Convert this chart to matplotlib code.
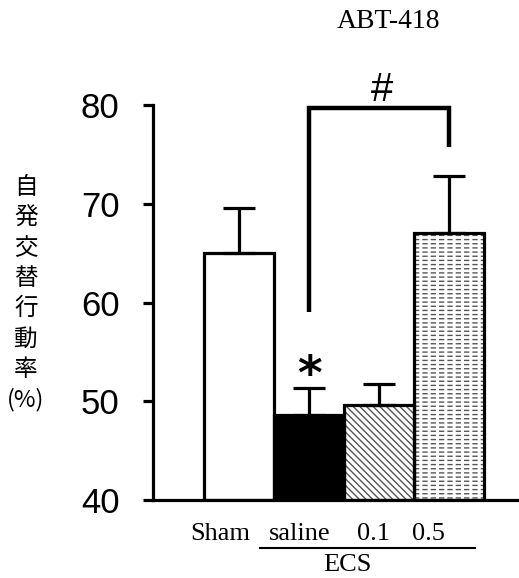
import matplotlib
matplotlib.use("Agg")
import matplotlib.pyplot as plt
from matplotlib.lines import Line2D

# ---- data ----
groups = ["Sham", "saline", "0.1", "0.5"]
means = [65.0, 48.6, 49.6, 67.0]
errors = [4.6, 2.7, 2.1, 5.8]
yticks = [40, 50, 60, 70, 80]
bracket_x = [1, 1, 3, 3]
bracket_y = [59.0, 79.7, 79.7, 75.7]
star_pos = (1, 52.5)
hash_pos = (2.05, 81.5)

W, H = 519, 578
fig = plt.figure(figsize=(W / 100, H / 100), dpi=100)
ax = fig.add_axes([153 / W, 1 - 500 / H, 1 - 153 / W, (500 - 105) / H])

x = list(range(len(groups)))
faces = ["white", "black", "white", "white"]
hatches = [None, None, "\\\\\\\\\\", "----"]
hcolors = ["white", "black", "#555555", "#555555"]

# hatch layer
with plt.rc_context({"hatch.linewidth": 1.0}):
    for xi, m, fc, h, hc in zip(x, means, faces, hatches, hcolors):
        ax.bar(xi, m - 40, bottom=40, width=1.0, color=fc, edgecolor=hc,
               linewidth=0, hatch=h, zorder=2)
# break horizontal lines into dashes on last bar
with plt.rc_context({"hatch.linewidth": 2.2}):
    ax.bar(x[3], means[3] - 40, bottom=40, width=1.0, fill=False,
           edgecolor="white", linewidth=0, hatch="||", zorder=2.5)
# outline layer
ax.bar(x, [m - 40 for m in means], bottom=40, width=1.0, fill=False,
       edgecolor="black", linewidth=2.3, zorder=3)

ax.errorbar(x, means, yerr=[[0] * len(errors), errors], fmt="none",
            ecolor="black", elinewidth=2.3, capsize=11.5, capthick=2.3,
            zorder=4)

ax.plot(bracket_x, bracket_y, color="black", lw=3.2, solid_joinstyle="miter",
        solid_capstyle="butt", zorder=5)
ax.text(hash_pos[0], hash_pos[1], "#", ha="center", va="center",
        fontsize=29, family="Liberation Sans", clip_on=False)
ax.text(star_pos[0], star_pos[1], "*", ha="center", va="center",
        fontsize=34, fontweight="bold", family="DejaVu Sans")

ax.set_xlim(-1.23, 4.0)
ax.set_ylim(40, 80)
ax.set_yticks(yticks)
ax.set_yticklabels([str(t) for t in yticks], family="Liberation Sans",
                   fontsize=25)
ax.set_xticks([])
ax.tick_params(axis="y", direction="out", length=7, width=2.3, pad=17)
for s in ["top", "right"]:
    ax.spines[s].set_visible(False)
for s in ["left", "bottom"]:
    ax.spines[s].set_linewidth(2.3)

# title
fig.text(388 / W, 1 - 22 / H, "ABT-418", ha="center", va="center",
         fontsize=20, family="Liberation Serif")

# y label, stacked vertically
fig.text(26 / W, 1 - 294 / H, "自\n発\n交\n替\n行\n動\n率\n(%)",
         ha="center", va="center", fontsize=17, linespacing=1.4,
         family=["Noto Sans CJK JP", "DejaVu Sans"])

# x labels
serif = "Liberation Serif"
fig.text(220 / W, 1 - 534 / H, groups[0], ha="center", va="center",
         fontsize=19, family=serif)
fig.text(300 / W, 1 - 534 / H, groups[1], ha="center", va="center",
         fontsize=19, family=serif)
fig.text(373 / W, 1 - 534 / H, groups[2], ha="center", va="center",
         fontsize=19, family=serif)
fig.text(428 / W, 1 - 534 / H, groups[3], ha="center", va="center",
         fontsize=19, family=serif)
fig.add_artist(Line2D([260 / W, 475 / W], [1 - 548 / H, 1 - 548 / H],
                      color="black", lw=1.5, transform=fig.transFigure))
fig.text(347 / W, 1 - 565 / H, "ECS", ha="center", va="center",
         fontsize=19, family=serif)

fig.savefig("out.png", dpi=100)
